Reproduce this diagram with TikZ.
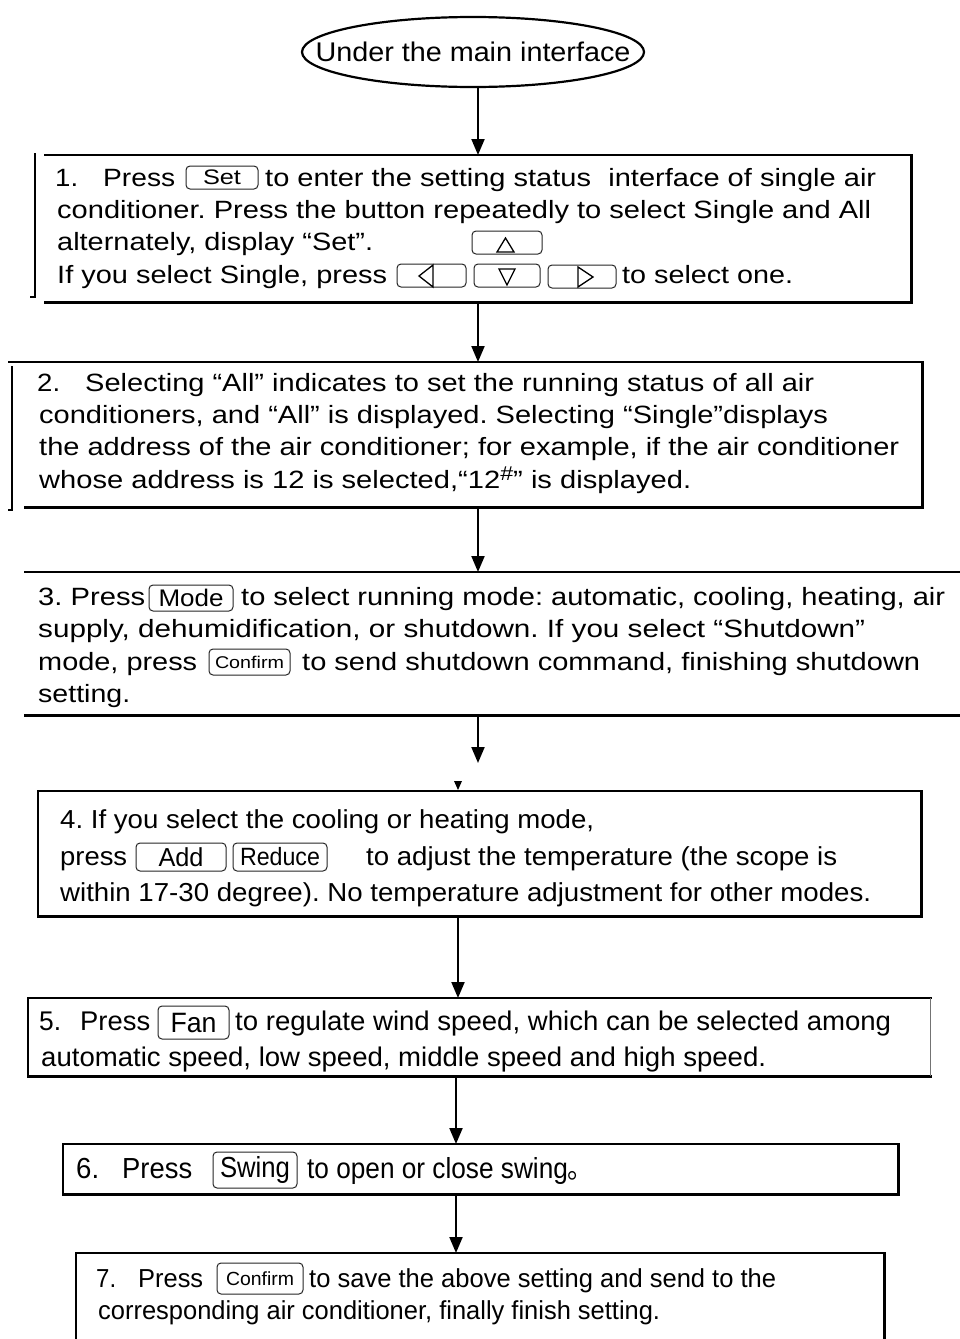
\documentclass[tikz,border=0pt]{standalone}
\usepackage{fontspec}
\setmainfont{Liberation Sans}
\newfontfamily\cjkfont{Noto Sans CJK SC}
\usepackage{graphicx}
\usetikzlibrary{arrows.meta,shapes.geometric}
\frenchspacing
\newlength\seglen
\newcommand\seg[2]{\settowidth{\seglen}{#2}\pgfmathsetmacro\segf{#1/\the\seglen}\scalebox{\segf}[1]{#2}}
\tikzset{
  lbl/.style={inner sep=0pt, anchor=base west, text=black},
  fa/.style={font=\fontsize{25}{30}\selectfont},
  fb/.style={font=\fontsize{26}{31}\selectfont},
  f5/.style={font=\fontsize{27}{32}\selectfont},
  f6/.style={font=\fontsize{29}{34}\selectfont},
  btn/.style={draw=black!85, line width=1pt, rounded corners=4pt, inner sep=0pt},
  tri/.style={line width=1.3pt, line join=miter},
  boxedge/.style={line width=2.6pt, line cap=rect},
  boxarea/.style={inner sep=0pt, anchor=north west, draw=none},
  arr/.style={line width=2pt, -{Triangle[width=13pt,length=16pt]}},
}
\begin{document}
\begin{tikzpicture}[x=1pt,y=-1pt]
\useasboundingbox (0,0) rectangle (960,1339);
\fill[white] (0,0) rectangle (960,1339);

% start ellipse
\node[ellipse, draw, line width=2.2pt, minimum width=342pt, minimum height=70pt, inner sep=0pt,
      font=\fontsize{27}{32}\selectfont] (ell) at (473,52) {\makebox[0pt]{\seg{315}{Under the main interface}}};

% box areas
\node[boxarea, minimum width=866pt, minimum height=147pt] (b1) at (45,155) {};
\node[boxarea, minimum width=913pt, minimum height=145pt] (b2) at (9,362) {};
\node[boxarea, minimum width=935pt, minimum height=143pt] (b3) at (25,572) {};
\node[boxarea, minimum width=883pt, minimum height=125pt] (b4) at (38,791) {};
\node[boxarea, minimum width=902pt, minimum height=78pt] (b5) at (28,998) {};
\node[boxarea, minimum width=835pt, minimum height=50pt] (b6) at (63,1144) {};
\node[boxarea, minimum width=808pt, minimum height=86pt] (b7) at (76,1253) {};

% box outlines
\draw[boxedge] (b1.north west) -- (b1.north east) -- (b1.south east) -- (b1.south west);
\draw[line width=2pt] (35,153) -- (35,297) -- (30,297);
\draw[boxedge] (b2.north west) -- (b2.north east) -- (b2.south east) -- ([xshift=16pt]b2.south west);
\draw[line width=2pt] (12,366) -- (12,510) -- (8,510);
\draw[boxedge] (b3.north west) -- (b3.north east);
\draw[boxedge] (b3.south west) -- (b3.south east);
\draw[boxedge] (b4.north west) rectangle (b4.south east);
\draw[boxedge] (b5.north east) -- (b5.north west) -- (b5.south west) -- (b5.south east);
\draw[line width=1.2pt, black!55] (b5.north east) -- (b5.south east);
\draw[boxedge] (b6.north west) rectangle (b6.south east);
\draw[boxedge] (b7.south west) -- (b7.north west) -- (b7.north east) -- (b7.south east);

% connectors
\coordinate (xa) at (478,0);
\coordinate (xb) at (458,0);
\coordinate (xc) at (456,0);
\coordinate (gap) at (478,763);
\draw[arr] (ell.south -| xa) -- (b1.north -| xa);
\draw[arr] (b1.south -| xa) -- (b2.north -| xa);
\draw[arr] (b2.south -| xa) -- (b3.north -| xa);
\draw[arr] (b3.south -| xa) -- (gap);
\fill (454,781) -- (462,781) -- (458,790) -- cycle;
\draw[arr] (b4.south -| xb) -- (b5.north -| xb);
\draw[arr] (b5.south -| xc) -- (b6.north -| xc);
\draw[arr] (b6.south -| xc) -- (b7.north -| xc);

% box 1 text
\node[lbl,fa] (t1a) at (55,186) {\seg{23}{1.}};
\node[lbl,fa] (t1b) at (103,186) {\seg{72}{Press}};
\node[btn, minimum width=72pt, minimum height=23pt, font=\fontsize{21}{21}\selectfont] (k1) at (222,177.5) {\seg{38}{Set}};
\node[lbl,fa] (t1c) at (265,186) {\seg{611}{to enter the setting status\hspace{8pt} interface of single air}};
\node[lbl,fa] (t1d) at (57,218) {\seg{814}{conditioner. Press the button repeatedly to select Single and All}};
\node[lbl,fa] (t1e) at (57,250) {\seg{316}{alternately, display “Set”.}};
\node[btn, minimum width=70pt, minimum height=23pt] (k2) at (507,242.5) {};
\node[lbl,fa] (t1f) at (57,283) {\seg{330}{If you select Single, press}};
\node[btn, minimum width=69pt, minimum height=23pt] (k3) at (431.5,275.5) {};
\node[btn, minimum width=66pt, minimum height=23pt] (k4) at (507,275.5) {};
\node[btn, minimum width=68pt, minimum height=23pt] (k5) at (582,276.5) {};
\draw[tri] (497,252) -- (514,252) -- (505.5,238) -- cycle;
\draw[tri] (433,265) -- (433,287) -- (419,276) -- cycle;
\draw[tri] (499,269) -- (515,269) -- (507,285) -- cycle;
\draw[tri] (578,267) -- (578,287) -- (593,277) -- cycle;
\node[lbl,fa] (t1g) at (622,283) {\seg{171}{to select one.}};

% box 2 text
\node[lbl,fa] (t2a) at (37,391) {\seg{23}{2.}};
\node[lbl,fa] (t2b) at (85,391) {\seg{729}{Selecting “All” indicates to set the running status of all air}};
\node[lbl,fa] (t2c) at (39,423) {\seg{789}{conditioners, and “All” is displayed. Selecting “Single”displays}};
\node[lbl,fa] (t2d) at (39,455) {\seg{860}{the address of the air conditioner; for example, if the air conditioner}};
\node[lbl,fa] (t2e) at (39,488) {\seg{652}{whose address is 12 is selected,“12\raisebox{8pt}{\fontsize{20}{20}\selectfont\#}” is displayed.}};

% box 3 text
\node[lbl,fa] (t3a) at (38,605) {\seg{107}{3. Press}};
\node[btn, minimum width=84pt, minimum height=26pt, font=\fontsize{24}{24}\selectfont] (k6) at (191,598) {\seg{65}{Mode}};
\node[lbl,fa] (t3b) at (241,605) {\seg{704}{to select running mode: automatic, cooling, heating, air}};
\node[lbl,fa] (t3c) at (38,637) {\seg{827}{supply, dehumidification, or shutdown. If you select “Shutdown”}};
\node[lbl,fa] (t3d) at (38,670) {\seg{159}{mode, press}};
\node[btn, minimum width=81pt, minimum height=26pt, font=\fontsize{17}{17}\selectfont] (k7) at (249.5,662) {\seg{69}{Confirm}};
\node[lbl,fa] (t3e) at (302,670) {\seg{618}{to send shutdown command, finishing shutdown}};
\node[lbl,fa] (t3f) at (38,702) {\seg{92}{setting.}};

% box 4 text
\node[lbl,fb] (t4a) at (60,828) {\seg{534}{4. If you select the cooling or heating mode,}};
\node[lbl,fb] (t4b) at (60,865) {\seg{67}{press}};
\node[btn, minimum width=90pt, minimum height=28pt, font=\fontsize{26}{26}\selectfont] (k8) at (181,857) {\seg{45}{Add}};
\node[btn, minimum width=94pt, minimum height=28pt, font=\fontsize{25}{25}\selectfont] (k9) at (280,857) {\seg{80}{Reduce}};
\node[lbl,fb] (t4c) at (366,865) {\seg{471}{to adjust the temperature (the scope is}};
\node[lbl,fb] (t4d) at (60,901) {\seg{811}{within 17-30 degree). No temperature adjustment for other modes.}};

% box 5 text
\node[lbl,f5] (t5a) at (39,1030) {\seg{22}{5.}};
\node[lbl,f5] (t5b) at (80,1030) {\seg{70}{Press}};
\node[btn, minimum width=71pt, minimum height=33pt, font=\fontsize{28}{28}\selectfont] (k10) at (193.5,1022.5) {\seg{46}{Fan}};
\node[lbl,f5] (t5c) at (235,1030) {\seg{656}{to regulate wind speed, which can be selected among}};
\node[lbl,f5] (t5d) at (41,1066) {\seg{725}{automatic speed, low speed, middle speed and high speed.}};

% box 6 text
\node[lbl,f6] (t6a) at (76,1178) {\seg{23}{6.}};
\node[lbl,f6] (t6b) at (122,1178) {\seg{70}{Press}};
\node[btn, minimum width=84pt, minimum height=36pt, font=\fontsize{29}{29}\selectfont] (k11) at (255,1170) {\seg{70}{Swing}};
\node[lbl,f6] (t6c) at (307,1178) {\seg{287}{to open or close swing{\cjkfont 。}}};

% box 7 text
\node[lbl,fb] (t7a) at (96,1287) {\seg{20}{7.}};
\node[lbl,fb] (t7b) at (138,1287) {\seg{65}{Press}};
\node[btn, minimum width=86pt, minimum height=31pt, font=\fontsize{19}{19}\selectfont] (k12) at (260,1278.5) {\seg{68}{Confirm}};
\node[lbl,fb] (t7c) at (309,1287) {\seg{467}{to save the above setting and send to the}};
\node[lbl,fb] (t7d) at (98,1319) {\seg{562}{corresponding air conditioner, finally finish setting.}};
\end{tikzpicture}
\end{document}
